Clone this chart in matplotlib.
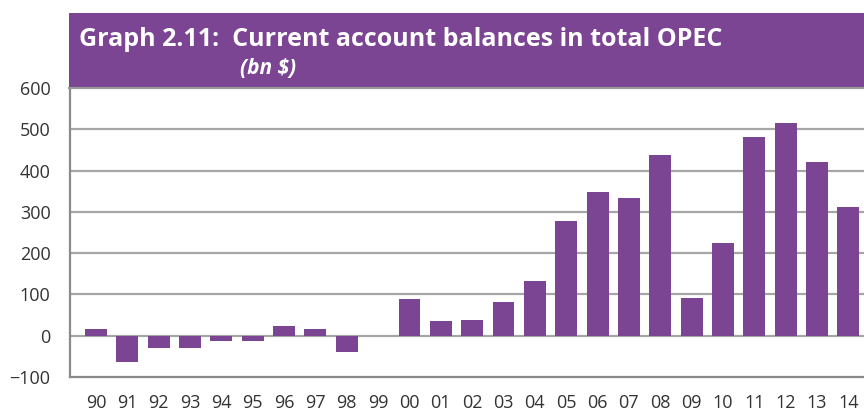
import matplotlib.pyplot as plt
from matplotlib.patches import Rectangle

years = ['90', '91', '92', '93', '94', '95', '96', '97', '98', '99', '00', '01',
         '02', '03', '04', '05', '06', '07', '08', '09', '10', '11', '12', '13', '14']
balances = [17, -63, -29, -29, -14, -14, 24, 17, -39, 0, 89, 36,
            39, 82, 133, 278, 349, 334, 438, 92, 225, 482, 516, 421, 312]
yticks = [-100, 0, 100, 200, 300, 400, 500, 600]

purple = '#7b4593'
grid_col = '#a6a6a6'

plt.rcParams['font.family'] = ['Open Sans', 'DejaVu Sans']

fig = plt.figure(figsize=(8.64, 4.11), dpi=100)
ax = fig.add_axes([70 / 864, 1 - 377 / 411, 1 - 70 / 864, (377 - 88) / 411])

x = list(range(len(years)))
ax.bar(x, balances, width=0.7, color=purple, zorder=3)

ax.set_xlim(-0.83, 24.5)
ax.set_ylim(-100, 600)
ax.set_yticks(yticks)
ax.set_yticklabels(['\u2212100' if t < 0 else str(t) for t in yticks])
ax.set_xticks(x)
ax.set_xticklabels(years)

for t in yticks[1:]:
    ax.axhline(t, color=grid_col, lw=1.6, zorder=1)

for s in ['top', 'right']:
    ax.spines[s].set_visible(False)
ax.spines['left'].set_color('#8a8a8a')
ax.spines['left'].set_linewidth(1.6)
ax.spines['bottom'].set_color('#8a8a8a')
ax.spines['bottom'].set_linewidth(1.6)
ax.tick_params(length=0, labelsize=13, colors='#333333')
ax.tick_params(axis='y', pad=14)
ax.tick_params(axis='x', pad=12)

# header banner
banner = Rectangle((69 / 864, 1 - 88 / 411), 1 - 69 / 864, 75 / 411,
                   transform=fig.transFigure, facecolor=purple,
                   edgecolor='none', zorder=5)
fig.patches.append(banner)
fig.add_artist(plt.Line2D([69 / 864, 1], [1 - 88 / 411, 1 - 88 / 411],
                          transform=fig.transFigure, color='#999999', lw=1.5, zorder=6))
fig.text(79 / 864, 1 - 39 / 411, 'Graph 2.11:  Current account balances in total OPEC',
         color='white', fontsize=18, fontweight='bold', va='center', ha='left', zorder=7)
fig.text(240 / 864, 1 - 68 / 411, '(bn $)', color='white', fontsize=15,
         fontweight='bold', fontstyle='italic', va='center', ha='left', zorder=7)

fig.savefig('out.png', dpi=100)
